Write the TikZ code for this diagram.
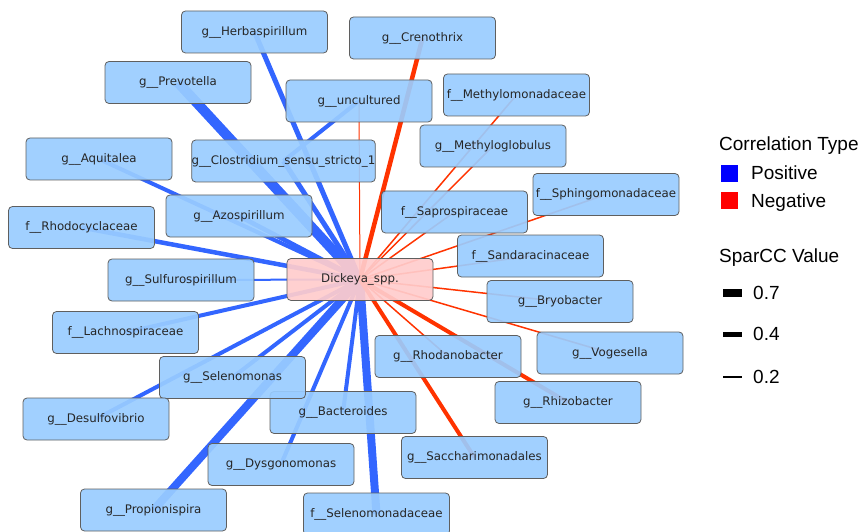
\documentclass[tikz,border=0pt]{standalone}
\usepackage{fontspec}
\usetikzlibrary{backgrounds}
\newfontfamily\labelfont{DejaVu Sans}
\newfontfamily\legendfont{Liberation Sans}
\definecolor{nodeblue}{RGB}{153,204,255}
\definecolor{hubpink}{RGB}{255,204,204}
\definecolor{nodeline}{RGB}{95,95,95}
\definecolor{posblue}{RGB}{51,102,255}
\definecolor{negred}{RGB}{255,51,0}
\tikzset{
	taxon/.style={draw=nodeline, line width=0.8pt, fill=nodeblue, rounded corners=4pt, minimum width=146pt, minimum height=42pt, inner sep=0pt, fill opacity=0.92, text opacity=1, text=black!85, font={\labelfont\fontsize{11.8pt}{14pt}\selectfont}},
	hub/.style={taxon, fill=hubpink},
	posedge/.style={draw=posblue, line width=#1},
	negedge/.style={draw=negred, line width=#1},
	legendtext/.style={anchor=base west, inner sep=0pt, font={\legendfont\fontsize{19pt}{22pt}\selectfont}},
	swatch/.style={fill=black, inner sep=0pt, minimum width=19pt, minimum height=#1}
}

\begin{document}
\begin{tikzpicture}[x=1pt, y=-1pt]
			%%%%% START %%%%%
			\useasboundingbox (0,0) rectangle (860,532);
			
			\node[taxon] (herb) at (254.5, 32) {g\_\_Herbaspirillum};
			\node[taxon] (cren) at (422.5, 38) {g\_\_Crenothrix};
			\node[taxon] (prev) at (178, 82.5) {g\_\_Prevotella};
			\node[taxon] (uncu) at (359, 101) {g\_\_uncultured};
			\node[taxon] (mmon) at (516.5, 95) {f\_\_Methylomonadaceae};
			\node[taxon] (mglo) at (493, 146) {g\_\_Methyloglobulus};
			\node[taxon] (aqui) at (99, 159) {g\_\_Aquitalea};
			\node[taxon, minimum width=183pt] (clos) at (283.5, 161) {g\_\_Clostridium\_sensu\_stricto\_1};
			\node[taxon] (sphi) at (606, 194.5) {f\_\_Sphingomonadaceae};
			\node[taxon] (sapr) at (454.5, 212) {f\_\_Saprospiraceae};
			\node[taxon] (azos) at (239, 216) {g\_\_Azospirillum};
			\node[taxon] (rhcy) at (81.5, 227.5) {f\_\_Rhodocyclaceae};
			\node[taxon] (sand) at (530.5, 256) {f\_\_Sandaracinaceae};
			\node[taxon] (sulf) at (181, 280) {g\_\_Sulfurospirillum};
			\node[hub] (dick) at (360, 279.5) {Dickeya\_spp.};
			\node[taxon] (bryo) at (560, 301.5) {g\_\_Bryobacter};
			\node[taxon] (lach) at (125.5, 332.5) {f\_\_Lachnospiraceae};
			\node[taxon] (voge) at (610, 353) {g\_\_Vogesella};
			\node[taxon] (rhod) at (448, 356.5) {g\_\_Rhodanobacter};
			\node[taxon] (bact) at (343, 412.5) {g\_\_Bacteroides};
			\node[taxon] (sele) at (232.5, 377.5) {g\_\_Selenomonas};
			\node[taxon] (rhiz) at (568, 402.5) {g\_\_Rhizobacter};
			\node[taxon] (desu) at (96, 419) {g\_\_Desulfovibrio};
			\node[taxon] (sacc) at (474.5, 457.5) {g\_\_Saccharimonadales};
			\node[taxon] (dysg) at (281, 464.5) {g\_\_Dysgonomonas};
			\node[taxon] (prop) at (153.5, 510) {g\_\_Propionispira};
			\node[taxon] (sldc) at (376.5, 514) {f\_\_Selenomonadaceae};
			
			\begin{pgfonlayer}{background}
			% positive
			\draw[posedge=5pt] (dick.center) -- (herb.center);
			\draw[posedge=10pt] (dick.center) -- (prev.center);
			\draw[posedge=5pt] (dick.center) -- (clos.center);
			\draw[posedge=4pt] (uncu.center) -- (clos.center);
			\draw[posedge=4pt] (dick.center) -- (aqui.center);
			\draw[posedge=4.5pt] (dick.center) -- (azos.center);
			\draw[posedge=4.5pt] (dick.center) -- (rhcy.center);
			\draw[posedge=2pt] (dick.center) -- (sulf.center);
			\draw[posedge=4pt] (dick.center) -- (lach.center);
			\draw[posedge=4pt] (dick.center) -- (sele.center);
			\draw[posedge=4pt] (dick.center) -- (desu.center);
			\draw[posedge=8pt] (dick.center) -- (prop.center);
			\draw[posedge=4pt] (dick.center) -- (dysg.center);
			\draw[posedge=4pt] (dick.center) -- (bact.center);
			\draw[posedge=8pt] (dick.center) -- (sldc.center);
			% negative
			\draw[negedge=4.5pt] (dick.center) -- (cren.center);
			\draw[negedge=1pt] (dick.center) -- (uncu.center);
			\draw[negedge=1.5pt] (dick.center) -- (mmon.center);
			\draw[negedge=1.5pt] (dick.center) -- (mglo.center);
			\draw[negedge=1.5pt] (dick.center) -- (sapr.center);
			\draw[negedge=1.5pt] (dick.center) -- (sphi.center);
			\draw[negedge=1.5pt] (dick.center) -- (sand.center);
			\draw[negedge=1.5pt] (dick.center) -- (bryo.center);
			\draw[negedge=1.5pt] (dick.center) -- (voge.center);
			\draw[negedge=1.5pt] (dick.center) -- (rhod.center);
			\draw[negedge=4pt] (dick.center) -- (rhiz.center);
			\draw[negedge=4pt] (dick.center) -- (sacc.center);
			\end{pgfonlayer}
			
			% legend
			\node[legendtext] (cortitle) at (719, 151) {Correlation Type};
			\node[fill=blue, inner sep=0pt, minimum size=17pt] (posbox) at (729.5, 173.5) {};
			\node[legendtext] (postext) at (751, 180) {Positive};
			\node[fill=red, inner sep=0pt, minimum size=17pt] (negbox) at (729.5, 200.5) {};
			\node[legendtext] (negtext) at (751, 207.5) {Negative};
			
			\node[legendtext] (spartitle) at (719, 262) {SparCC Value};
			\node[swatch=8pt] (w07) at (732.5, 293) {};
			\node[legendtext] (t07) at (753, 299.5) {0.7};
			\node[swatch=5.5pt] (w04) at (732.5, 334.5) {};
			\node[legendtext] (t04) at (753, 340.5) {0.4};
			\node[swatch=1.5pt] (w02) at (732.5, 377) {};
			\node[legendtext] (t02) at (753, 383) {0.2};
			%%%%% END %%%%%
\end{tikzpicture}
\end{document}
